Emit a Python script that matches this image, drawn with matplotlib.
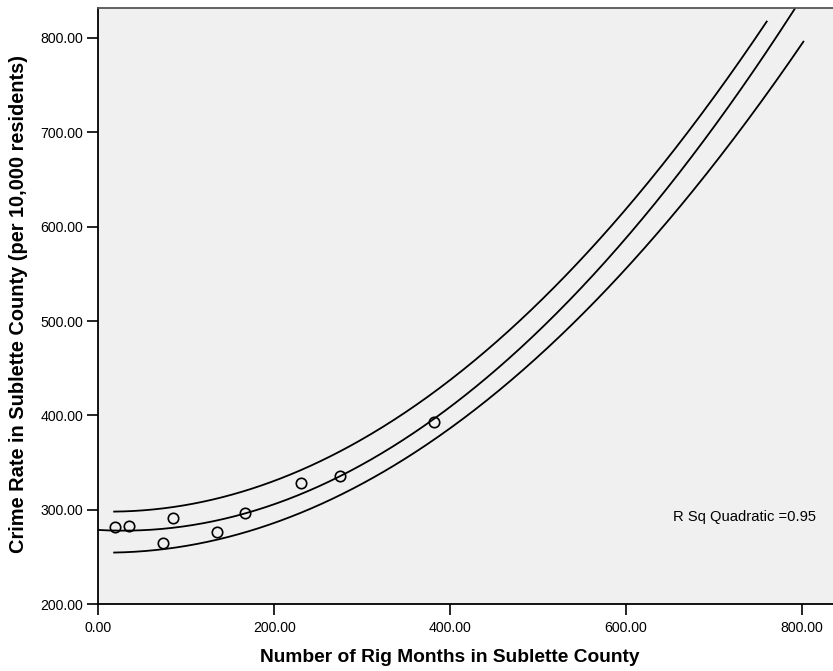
import matplotlib.pyplot as plt
import numpy as np

plt.rcParams['font.family'] = ['Liberation Sans', 'DejaVu Sans']

# rig months vs crime rate, Sublette County
rig_months = [19.0, 35.2, 73.2, 84.6, 135.0, 166.5, 230.5, 274.9, 381.4]
crime_rate = [281.6, 282.9, 264.6, 291.1, 276.6, 296.4, 328.2, 336.2, 393.4]

# interval curves around the quadratic fit (x, value)
upper_x = [18, 138, 275, 400, 525, 652, 760]
upper_y = [300.6, 310.5, 358.2, 441.0, 541.7, 681.4, 814.7]
lower_x = [18, 138, 275, 400, 525, 684, 801.7]
lower_y = [255.1, 268.9, 314.0, 390.0, 481.8, 647.7, 796.0]

x_ticks = [0, 200, 400, 600, 800]
y_ticks = [200, 300, 400, 500, 600, 700, 800]

fit_end = 794

x = np.array(rig_months)
y = np.array(crime_rate)
coef = np.polyfit(x, y, 2)
pred = np.polyval(coef, x)
r2 = 1 - np.sum((y - pred) ** 2) / np.sum((y - y.mean()) ** 2)

up_coef = np.polyfit(upper_x, upper_y, 2)
lo_coef = np.polyfit(lower_x, lower_y, 2)

W, H = 833, 671
fig = plt.figure(figsize=(W / 100, H / 100), dpi=100)
ax = fig.add_axes([98.3 / W, (H - 604.3) / H, (836 - 98.3) / W, (604.3 - 8) / H])
ax.set_facecolor('#f0f0f0')

xs = np.linspace(0, fit_end, 400)
ax.plot(xs, np.polyval(coef, xs), color='black', lw=1.3)
xu = np.linspace(upper_x[0], upper_x[-1], 400)
ax.plot(xu, np.polyval(up_coef, xu), color='black', lw=1.3)
xl = np.linspace(lower_x[0], lower_x[-1], 400)
ax.plot(xl, np.polyval(lo_coef, xl), color='black', lw=1.3)

ax.plot(x, y, 'o', mfc='none', mec='black', ms=7.5, mew=1.2)

ax.set_xlim(0, (836 - 98.3) / 0.8795)
ax.set_ylim(200, 200 + (604.3 - 8) / 0.944)
ax.set_xticks(x_ticks)
ax.set_yticks(y_ticks)
ax.set_xticklabels([f'{v:.2f}' for v in x_ticks])
ax.set_yticklabels([f'{v:.2f}' for v in y_ticks])
ax.tick_params(direction='out', length=8, width=1.2, labelsize=10.2, pad=3)
ax.tick_params(axis='x', pad=4)
for side in ax.spines.values():
    side.set_linewidth(1.3)
ax.spines['top'].set_color('#555555')

fig.text(449.5 / W, 1 - 658 / H, 'Number of Rig Months in Sublette County', fontsize=13.8,
         fontweight='bold', ha='center', va='center')
fig.text(19 / W, 1 - 304 / H, 'Crime Rate in Sublette County (per 10,000 residents)',
         fontsize=14.4, fontweight='bold', ha='center', va='center', rotation=90)

ax.text((672.7 - 98.3) / 0.8795, 200 + (604.3 - 517) / 0.944, f'R Sq Quadratic ={r2:.2f}',
        fontsize=10.6, va='center', ha='left')

fig.savefig('out.png', dpi=100)
